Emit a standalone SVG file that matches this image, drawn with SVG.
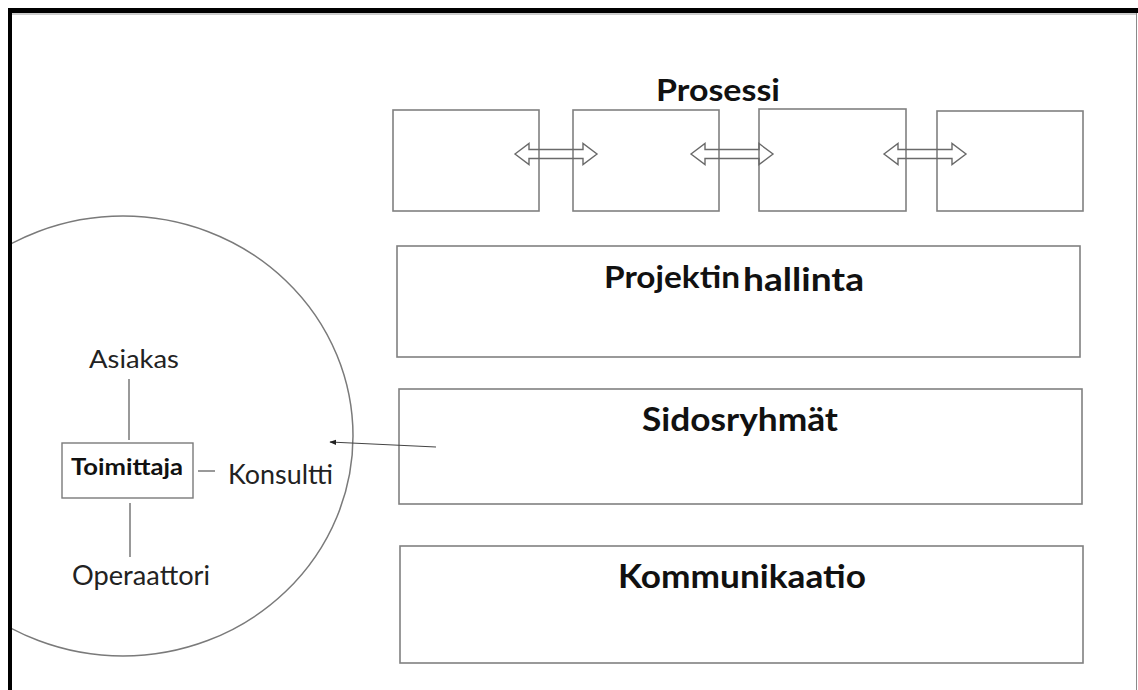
<svg xmlns="http://www.w3.org/2000/svg" width="1138" height="690" viewBox="0 0 1138 690">
  <defs>
    <style>
      .box { fill: none; stroke: #808080; stroke-width: 1.6; }
      .link { fill: none; stroke: #6e6e6e; stroke-width: 1.4; }
      .dbl { fill: none; stroke: #6a6a6a; stroke-width: 1.4; stroke-linejoin: miter; }
      .title { font-family: Lato, "Liberation Sans", sans-serif; font-weight: bold; fill: #111; }
      .label { font-family: Lato, "Liberation Sans", sans-serif; fill: #222; }
    </style>
    <clipPath id="frameClip">
      <rect x="12" y="13" width="1124" height="677"/>
    </clipPath>
    <marker id="tip" viewBox="0 0 10 10" refX="9" refY="5" markerWidth="7" markerHeight="7" orient="auto" markerUnits="userSpaceOnUse">
      <path d="M0,1 L10,5 L0,9 Z" fill="#222"/>
    </marker>
    <!-- hollow double-headed block arrow, 82 px long, centred on y=0 -->
    <path id="dblArrow" d="M0,0 L14,-10.5 L14,-4.5 L68,-4.5 L68,-10.5 L82,0 L68,10.5 L68,4.5 L14,4.5 L14,10.5 Z"/>
  </defs>

  <rect width="1138" height="690" fill="#fff"/>

  <!-- page frame -->
  <g id="frame">
    <rect x="8" y="8" width="1130" height="5" fill="#000"/>
    <rect x="8" y="8" width="4" height="682" fill="#000"/>
    <line x1="12" y1="14" x2="1136" y2="14" stroke="#9a9a9a" stroke-width="1"/>
    <line x1="1136.5" y1="13" x2="1136.5" y2="690" stroke="#8a8a8a" stroke-width="1"/>
  </g>

  <!-- stakeholder circle -->
  <g id="circle" clip-path="url(#frameClip)">
    <ellipse cx="123" cy="436" rx="230" ry="220" fill="none" stroke="#7a7a7a" stroke-width="1.5"/>
  </g>

  <!-- process steps -->
  <g id="step1"><rect class="box" x="393" y="110" width="146" height="101"/></g>
  <g id="step2"><rect class="box" x="573" y="110" width="146" height="101"/></g>
  <g id="step3"><rect class="box" x="759" y="109" width="147" height="102"/></g>
  <g id="step4"><rect class="box" x="937" y="111" width="146" height="100"/></g>
  <g id="prosessi">
    <text class="title" x="718" y="101" font-size="31" text-anchor="middle" textLength="124" lengthAdjust="spacingAndGlyphs">Prosessi</text>
  </g>

  <!-- bands -->
  <g id="projektinhallinta">
    <rect class="box" x="397" y="246" width="683" height="111"/>
    <text class="title" x="604" y="288" font-size="31" textLength="136" lengthAdjust="spacingAndGlyphs">Projektin</text>
    <text class="title" x="743" y="291" font-size="33" textLength="121" lengthAdjust="spacingAndGlyphs">hallinta</text>
  </g>
  <g id="sidosryhmat">
    <rect class="box" x="399" y="389" width="683" height="115"/>
    <text class="title" x="740" y="431" font-size="32" text-anchor="middle" textLength="196" lengthAdjust="spacingAndGlyphs">Sidosryhmät</text>
  </g>
  <g id="kommunikaatio">
    <rect class="box" x="400" y="546" width="683" height="117"/>
    <text class="title" x="742" y="588" font-size="32" text-anchor="middle" textLength="248" lengthAdjust="spacingAndGlyphs">Kommunikaatio</text>
  </g>

  <!-- circle contents -->
  <g id="asiakas">
    <text class="label" x="134" y="368" font-size="25" text-anchor="middle" textLength="90" lengthAdjust="spacingAndGlyphs">Asiakas</text>
  </g>
  <g id="toimittaja">
    <rect x="62" y="443" width="131" height="55" fill="none" stroke="#7a7a7a" stroke-width="1.4"/>
    <text class="title" x="127" y="475" font-size="22" text-anchor="middle" textLength="112" lengthAdjust="spacingAndGlyphs">Toimittaja</text>
  </g>
  <g id="konsultti">
    <text class="label" x="228" y="484" font-size="26" textLength="105" lengthAdjust="spacingAndGlyphs">Konsultti</text>
  </g>
  <g id="operaattori">
    <text class="label" x="141" y="585" font-size="27" text-anchor="middle" textLength="138" lengthAdjust="spacingAndGlyphs">Operaattori</text>
  </g>

  <!-- connectors -->
  <g id="connectors">
    <line class="link" x1="129" y1="379" x2="129" y2="440"/>
    <line class="link" x1="130" y1="503" x2="130" y2="557"/>
    <line class="link" x1="198" y1="471" x2="215" y2="471"/>
    <line x1="436" y1="447" x2="330" y2="442" stroke="#444" stroke-width="1.2" marker-end="url(#tip)"/>
    <use href="#dblArrow" class="dbl" x="515" y="154"/>
    <use href="#dblArrow" class="dbl" x="691" y="154"/>
    <use href="#dblArrow" class="dbl" x="884" y="154"/>
  </g>
</svg>
